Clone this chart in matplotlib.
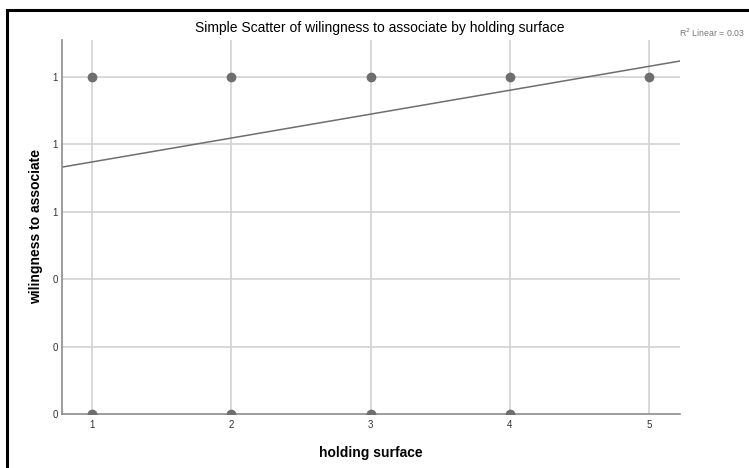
# Simple scatter with linear fit line (SPSS style)

import numpy as np
import matplotlib.pyplot as plt
from matplotlib.patches import Rectangle

#-------------------------------------------------------------
# Data
holding_surface = [1, 2, 3, 4, 5, 1, 2, 3, 4]
willingness = [1, 1, 1, 1, 1, 0, 0, 0, 0]

x_ticks = [1, 2, 3, 4, 5]
y_ticks = [0, 0.2, 0.4, 0.6, 0.8, 1.0]
y_tick_labels = ['0', '0', '0', '1', '1', '1']

# fit line as drawn on the chart
fit_intercept = 0.677
fit_slope = 0.071
r2_text = 'R$^2$ Linear = 0.03'

x_min, x_max = 0.785, 5.22
y_min, y_max = 0.0, 1.11

#-------------------------------------------------------------
plt.rcParams['font.family'] = ['Liberation Sans', 'DejaVu Sans']

fig = plt.figure(figsize=(7.49, 4.68), dpi=100)
ax = fig.add_axes([62/749, 54/468, 618/749, 374/468])

# outer black frame (only top and left visible in the picture)
fig.patches.append(Rectangle((7/749, -0.1), 1.2, (468 - 10)/468 + 0.1,
                             transform=fig.transFigure, fill=False,
                             edgecolor='black', linewidth=2.2))

grid_col = '#d2d2d2'
for xv in x_ticks:
    ax.axvline(xv, color=grid_col, linewidth=1.2, zorder=1)
for yv in y_ticks[1:]:
    ax.axhline(yv, color=grid_col, linewidth=1.2, zorder=1)

ax.scatter(holding_surface, willingness, s=36, color='#6e6e6e', zorder=3)

xs = np.array([x_min, x_max])
ax.plot(xs, fit_intercept + fit_slope * xs, color='#6e6e6e', linewidth=1.1, zorder=2)

ax.set_xlim(x_min, x_max)
ax.set_ylim(y_min, y_max)
ax.set_xticks(x_ticks)
ax.set_yticks(y_ticks)
ax.set_yticklabels(y_tick_labels)

for s in ['top', 'right']:
    ax.spines[s].set_visible(False)
for s in ['left', 'bottom']:
    ax.spines[s].set_color('#8c8c8c')
    ax.spines[s].set_linewidth(1.2)
ax.tick_params(length=0, labelsize=7, colors='#333333')
ax.tick_params(axis='y', pad=3)
ax.tick_params(axis='x', pad=4)

ax.set_xlabel('holding surface', fontsize=10, fontweight='bold', labelpad=12)
ax.set_ylabel('wilingness to associate', fontsize=10, fontweight='bold', labelpad=7)
fig.text(380/749, 1 - 28/468, 'Simple Scatter of wilingness to associate by holding surface',
         ha='center', va='center', fontsize=10)
fig.text(679/749, 1 - 33/468, r2_text, ha='left', va='center', fontsize=6.3, color='#777777')

fig.savefig('out.png', dpi=100)
